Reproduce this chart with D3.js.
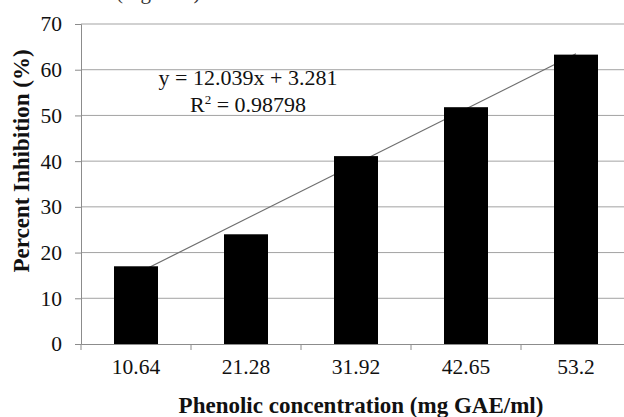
<!DOCTYPE html>
<html>
<head>
<meta charset="utf-8">
<script src="https://cdn.jsdelivr.net/npm/d3@7"></script>
<style>
  body { margin: 0; background: #fff; }
  svg { display: block; font-family: "Liberation Serif", "Times New Roman", serif; }
</style>
</head>
<body>
<div id="chart"></div>
<script>
// data
const concentrations = ["10.64", "21.28", "31.92", "42.65", "53.2"];
const inhibition = [17.0, 24.0, 41.1, 51.8, 63.3];
const yTicks = [0, 10, 20, 30, 40, 50, 60, 70];
const trendSlope = 12.039;
const trendIntercept = 3.281;
const trendLabel = "y = 12.039x + 3.281";
const r2Value = "0.98798";

const width = 624;
const height = 417;
const margin = {top: 24, right: -7, bottom: 73, left: 81};
const serif = "Liberation Serif";

const svg = d3.select("#chart")
    .append("svg")
    .attr("width", width)
    .attr("height", height);

const xScale = d3.scaleBand()
    .domain(concentrations)
    .range([margin.left, width - margin.right])
    .paddingInner(0.6)
    .paddingOuter(0.3);

const yScale = d3.scaleLinear()
    .domain([0, 70])
    .range([height - margin.bottom, margin.top]);

// caption of the page above, mostly cut off
svg.append("text")
    .attr("x", 116)
    .attr("y", -1.5)
    .attr("font-size", 21)
    .attr("fill", "#333")
    .text("(Figure 4)");

// gridlines
svg.append("g")
    .selectAll("line")
    .data(yTicks.slice(1))
    .enter()
    .append("line")
    .attr("x1", margin.left)
    .attr("x2", width)
    .attr("y1", d => yScale(d))
    .attr("y2", d => yScale(d))
    .attr("stroke", "#a3a3a3")
    .attr("stroke-width", 1);

// y axis
const yAxis = svg.append("g")
    .attr("transform", `translate(${margin.left}, 0)`)
    .call(d3.axisLeft(yScale).tickValues(yTicks).tickSize(6).tickPadding(13));
yAxis.attr("font-family", serif);
yAxis.select(".domain").attr("stroke", "#8c8c8c");
yAxis.selectAll(".tick line").attr("stroke", "#8c8c8c");
yAxis.selectAll("text")
    .attr("font-size", 21.5)
    .attr("fill", "#111");

// x axis, ticks sit between the categories
const xAxis = svg.append("g")
    .attr("transform", `translate(0, ${yScale(0)})`)
    .call(d3.axisBottom(xScale).tickSize(0).tickPadding(15));
xAxis.attr("font-family", serif);
xAxis.select(".domain").attr("stroke", "#8c8c8c");
xAxis.selectAll("text")
    .attr("font-size", 21.5)
    .attr("fill", "#111");

svg.append("g")
    .selectAll("line")
    .data(concentrations)
    .enter()
    .append("line")
    .attr("x1", d => xScale(d) - xScale.step() * xScale.paddingInner() / 2)
    .attr("x2", d => xScale(d) - xScale.step() * xScale.paddingInner() / 2)
    .attr("y1", yScale(0))
    .attr("y2", yScale(0) + 6)
    .attr("stroke", "#8c8c8c");

// linear trendline (x = category index 1..n)
const center = d => xScale(d) + xScale.bandwidth() / 2;
const first = concentrations[0];
const last = concentrations[concentrations.length - 1];
svg.append("line")
    .attr("x1", center(first))
    .attr("y1", yScale(trendSlope * 1 + trendIntercept))
    .attr("x2", center(last))
    .attr("y2", yScale(trendSlope * concentrations.length + trendIntercept))
    .attr("stroke", "#6e6e6e")
    .attr("stroke-width", 1.2);

// bars
svg.append("g")
    .selectAll("rect")
    .data(inhibition)
    .enter()
    .append("rect")
    .attr("x", (d, i) => xScale(concentrations[i]))
    .attr("y", d => yScale(d))
    .attr("width", xScale.bandwidth())
    .attr("height", d => yScale(0) - yScale(d))
    .attr("fill", "#000");

// trendline equation
svg.append("text")
    .attr("x", 248)
    .attr("y", 85)
    .attr("text-anchor", "middle")
    .attr("font-size", 22)
    .attr("fill", "#111")
    .text(trendLabel);

const r2 = svg.append("text")
    .attr("x", 248)
    .attr("y", 112)
    .attr("text-anchor", "middle")
    .attr("font-size", 22)
    .attr("fill", "#111");
r2.append("tspan").text("R");
r2.append("tspan").attr("font-size", 13).attr("dy", -8).text("2");
r2.append("tspan").attr("dy", 8).text(" = " + r2Value);

// axis titles
svg.append("text")
    .attr("x", 361)
    .attr("y", 413)
    .attr("text-anchor", "middle")
    .attr("font-size", 23)
    .attr("font-weight", "bold")
    .attr("fill", "#111")
    .text("Phenolic concentration (mg GAE/ml)");

svg.append("text")
    .attr("transform", "translate(29, 161) rotate(-90)")
    .attr("text-anchor", "middle")
    .attr("font-size", 23)
    .attr("font-weight", "bold")
    .attr("fill", "#111")
    .text("Percent Inhibition (%)");
</script>
</body>
</html>
